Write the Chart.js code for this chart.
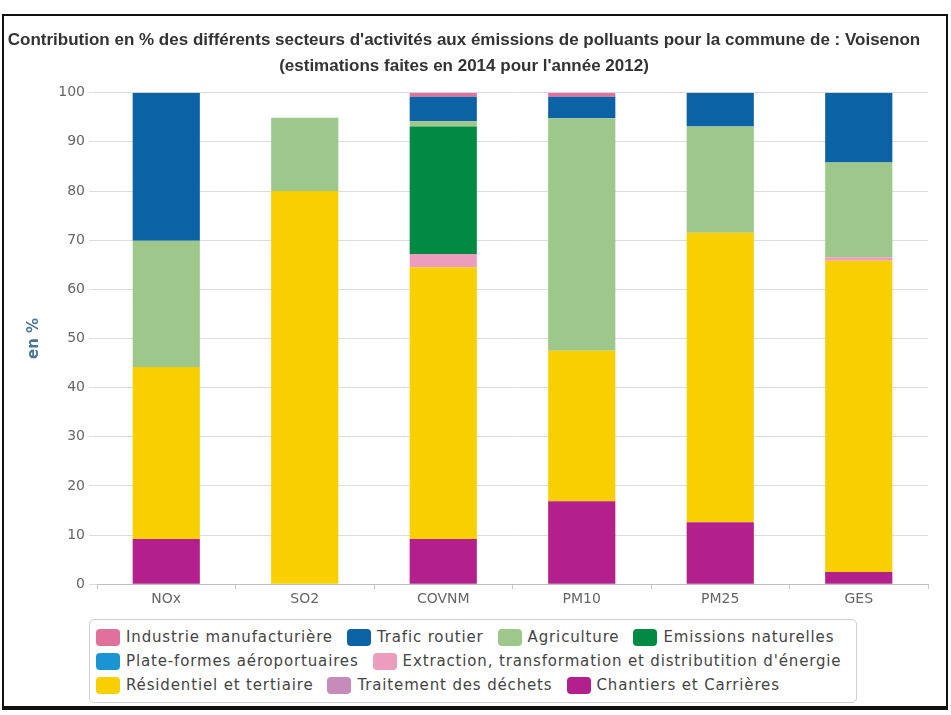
<!DOCTYPE html>
<html>
<head>
<meta charset="utf-8">
<script src="https://cdn.jsdelivr.net/npm/chart.js@4"></script>
<style>
  body { margin: 0; background: #fff; }
  #frame {
    position: absolute; left: 2px; top: 14px; width: 942px; height: 690px;
    border: 2px solid #111; border-bottom-width: 4px;
  }
  #chart { position: absolute; left: 0; top: 16px; }
  #legend {
    position: absolute; left: 89px; top: 619px; width: 756px; height: 72px;
    border: 1px solid #cfcfcf; border-radius: 5px; padding: 5px 4px 5px 6px;
    font-family: "DejaVu Sans", sans-serif; font-size: 15px; letter-spacing: 0.85px; color: #444;
  }
  .row { display: flex; white-space: nowrap; }
  .item { display: flex; align-items: center; height: 24px; margin-right: 14px; }
  .sw { width: 24px; height: 17px; border-radius: 4px; margin-right: 6px; }
</style>
</head>
<body>
<div id="frame"></div>
<canvas id="chart" width="951" height="600"></canvas>
<div id="legend"></div>
<script>
const categories = ["NOx", "SO2", "COVNM", "PM10", "PM25", "GES"];

// sectors, legend order (top of the stack first)
const sectorNames = [
  "Industrie manufacturière",
  "Trafic routier",
  "Agriculture",
  "Emissions naturelles",
  "Plate-formes aéroportuaires",
  "Extraction, transformation et distributition d'énergie",
  "Résidentiel et tertiaire",
  "Traitement des déchets",
  "Chantiers et Carrières",
];
const sectorColors = [
  "#e0719b", "#0b63a5", "#9ec78c", "#018a42", "#1a95d3",
  "#ec9dbd", "#f8cf00", "#c78bbb", "#b41f8e",
];

const industrie   = [0, 0, 0.8, 0.8, 0, 0];
const trafic      = [30.1, 0, 5.0, 4.4, 6.9, 14.2];
const agriculture = [25.7, 14.9, 1.1, 47.3, 21.6, 19.3];
const naturelles  = [0, 0, 25.9, 0, 0, 0];
const aeroports   = [0, 0, 0, 0, 0, 0];
const extraction  = [0, 0, 2.7, 0, 0, 0.7];
const residentiel = [35.0, 80.0, 55.3, 30.6, 58.9, 63.3];
const dechets     = [0, 0, 0, 0, 0, 0];
const chantiers   = [9.2, 0, 9.2, 16.9, 12.6, 2.5];

const sectorValues = [industrie, trafic, agriculture, naturelles, aeroports,
  extraction, residentiel, dechets, chantiers];

const yTicks = [0, 10, 20, 30, 40, 50, 60, 70, 80, 90, 100];

// legend items per row, as wrapped in the original
const legendRows = [4, 2, 3];

// stack bottom-up: Chart.js stacks the first dataset at the bottom
const datasets = sectorNames.map((name, i) => ({
  label: name,
  data: sectorValues[i],
  backgroundColor: sectorColors[i],
  borderWidth: 0,
  barPercentage: 0.485,
  categoryPercentage: 1,
})).reverse();

// html legend
const legend = document.getElementById("legend");
let idx = 0;
legendRows.forEach((count) => {
  const row = document.createElement("div");
  row.className = "row";
  for (let k = 0; k < count; k++, idx++) {
    const item = document.createElement("div");
    item.className = "item";
    const sw = document.createElement("span");
    sw.className = "sw";
    sw.style.background = sectorColors[idx];
    item.appendChild(sw);
    item.appendChild(document.createTextNode(sectorNames[idx]));
    row.appendChild(item);
  }
  legend.appendChild(row);
});

new Chart(document.getElementById("chart"), {
  type: "bar",
  data: { labels: categories, datasets: datasets },
  options: {
    responsive: false,
    animation: false,
    layout: { padding: { left: 0, right: 23, top: 0, bottom: 6 } },
    plugins: {
      legend: { display: false },
      tooltip: { enabled: false },
      title: {
        display: true,
        text: [
          "Contribution en % des différents secteurs d'activités aux émissions de polluants pour la commune de : Voisenon",
          "(estimations faites en 2014 pour l'année 2012)",
        ],
        color: "#333",
        font: { family: "'Liberation Sans', sans-serif", size: 17, weight: "bold", lineHeight: 1.55 },
        padding: { top: 11, bottom: 13 },
      },
    },
    scales: {
      x: {
        stacked: true,
        offset: true,
        grid: { display: true, drawOnChartArea: false, offset: true, tickLength: 5, color: "#c8c8c8" },
        border: { color: "#c0c0c0" },
        ticks: { color: "#666", padding: 2, font: { family: "DejaVu Sans", size: 14 } },
      },
      y: {
        stacked: true,
        min: 0,
        max: 100,
        afterBuildTicks: (scale) => { scale.ticks = yTicks.map((v) => ({ value: v })); },
        afterFit: (scale) => { scale.width = 97; },
        grid: { color: "#dcdcdc", tickLength: 8 },
        border: { display: false },
        ticks: { color: "#666", padding: 4, font: { family: "DejaVu Sans", size: 14 } },
        title: {
          display: true,
          text: "en %",
          color: "#4d7598",
          font: { family: "DejaVu Sans", size: 15, weight: "bold" },
          padding: { top: 25, bottom: 0 },
        },
      },
    },
  },
});
</script>
</body>
</html>
